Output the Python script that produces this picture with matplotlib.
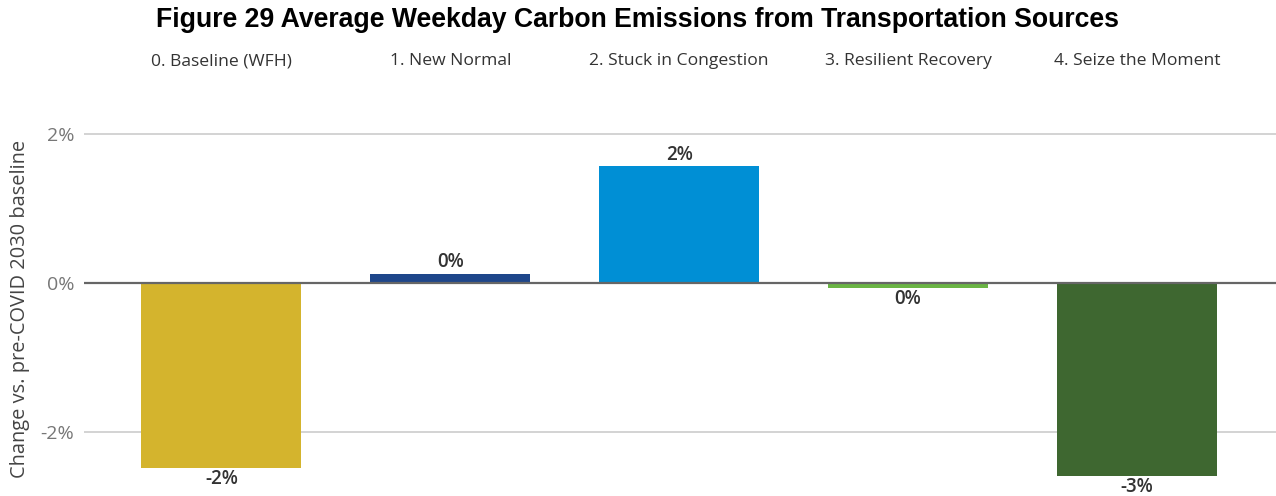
import matplotlib.pyplot as plt
import numpy as np

# scenario results, % change vs pre-COVID 2030 baseline
scenarios = ["0. Baseline (WFH)", "1. New Normal", "2. Stuck in Congestion",
             "3. Resilient Recovery", "4. Seize the Moment"]
change = [-2.48, 0.12, 1.56, -0.07, -2.59]
bar_labels = ["-2%", "0%", "2%", "0%", "-3%"]
colors = ["#D4B42D", "#1E468A", "#008FD5", "#6BB545", "#3E6730"]
yticks = [-2, 0, 2]
ytick_labels = ["-2%", "0%", "2%"]

plt.rcParams['font.family'] = ['Open Sans', 'DejaVu Sans']

fig = plt.figure(figsize=(12.76, 4.96), dpi=100)
ax = fig.add_axes([84 / 1276, 0, 1 - 84 / 1276, 1 - 100 / 496])

x = np.arange(len(scenarios))
ax.bar(x, change, width=0.7, color=colors, zorder=2)

for xi, v, lab in zip(x, change, bar_labels):
    if v >= 0:
        ax.text(xi, v + 0.02, lab, ha="center", va="bottom", fontsize=13.5,
                fontweight="semibold", color="#333333")
    else:
        ax.text(xi, v - 0.02, lab, ha="center", va="top", fontsize=13.5,
                fontweight="semibold", color="#333333")

# scenario names across the top
for xi, name in zip(x, scenarios):
    ax.text(xi, 1.098, name, transform=ax.get_xaxis_transform(), ha="center",
            va="center", fontsize=12.6, color="#333333")

ax.set_xlim(-0.6, 4.607)
ax.set_ylim(-2.86, 2.45)
ax.set_xticks([])
ax.set_yticks(yticks)
ax.set_yticklabels(ytick_labels, fontsize=14, color="#777777")
ax.tick_params(axis="y", length=0, pad=7)
for s in ax.spines.values():
    s.set_visible(False)
for t in [-2, 2]:
    ax.axhline(t, color="#cccccc", lw=1.2, zorder=1)
ax.axhline(0, color="#666666", lw=1.6, zorder=3)

ax.set_ylabel("Change vs. pre-COVID 2030 baseline", fontsize=14.4, color="#444444")
ax.yaxis.set_label_coords(-0.045, 0.473)

fig.text(0.5, 1 - 20 / 496, "Figure 29 Average Weekday Carbon Emissions from Transportation Sources",
         ha="center", va="center", fontsize=19.2, fontweight="bold",
         family="Liberation Sans", color="black")

fig.savefig("out.png", dpi=100)
